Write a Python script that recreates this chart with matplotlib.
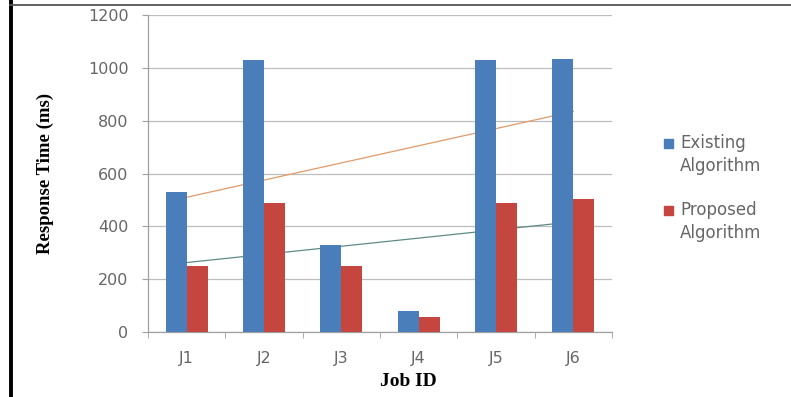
import numpy as np
import matplotlib.pyplot as plt
from matplotlib.lines import Line2D
from matplotlib.patches import Rectangle

# data
jobs = ['J1', 'J2', 'J3', 'J4', 'J5', 'J6']
existing = [530, 1030, 330, 80, 1030, 1035]
proposed = [250, 490, 250, 55, 490, 505]
series_names = ['Existing\nAlgorithm', 'Proposed\nAlgorithm']

blue = '#4A7EBB'
red = '#C4463F'
W, H = 791, 397

fig = plt.figure(figsize=(7.91, 3.97), dpi=100)
ax = fig.add_axes([148 / W, 1 - 332 / H, 464 / W, 317 / H])

x = np.arange(1, len(jobs) + 1)
w = 0.27
ax.bar(x - w / 2, existing, w, color=blue, zorder=3)
ax.bar(x + w / 2, proposed, w, color=red, zorder=3)

# linear trend lines, behind the bars
for vals, col in [(existing, '#E29A68'), (proposed, '#5E8C84')]:
    k, b = np.polyfit(x, vals, 1)
    ax.plot(x, k * x + b, color=col, lw=0.9, zorder=2)

ax.set_xlim(0.5, 6.5)
ax.set_ylim(0, 1200)
ax.set_yticks(range(0, 1201, 200))
ax.set_xticks(x)
ax.set_xticklabels(jobs)
ax.set_xticks(np.arange(0.5, 6.6, 1), minor=True)
ax.tick_params(axis='x', which='major', length=0, pad=14)
ax.tick_params(axis='x', which='minor', length=4, color='#A0A0A0')
ax.tick_params(axis='y', length=4, color='#A0A0A0', pad=10)
for lab in ax.get_xticklabels() + ax.get_yticklabels():
    lab.set_fontfamily('DejaVu Sans')
    lab.set_fontsize(11.5)
    lab.set_color('#666666')

ax.grid(axis='y', color='#BDBDBD', lw=0.9, zorder=0)
for s in ['top', 'right']:
    ax.spines[s].set_visible(False)
for s in ['left', 'bottom']:
    ax.spines[s].set_color('#A0A0A0')
    ax.spines[s].set_linewidth(0.9)

fig.text(45 / W, 1 - 173 / H, 'Response Time (ms)', rotation=90,
         fontfamily='Liberation Serif', fontweight='bold', fontsize=13.5,
         ha='center', va='center')
fig.text(408 / W, 1 - 382 / H, 'Job ID', fontfamily='Liberation Serif',
         fontweight='bold', fontsize=14, ha='center', va='center')

# legend drawn by hand: square aligned with the first line of each label
for name, col, yc in zip(series_names, [blue, red], [143.5, 210.5]):
    fig.add_artist(Rectangle((664 / W, 1 - (yc + 4.5) / H), 9 / W, 9 / H,
                             color=col, transform=fig.transFigure))
    fig.text(680 / W, 1 - (yc + 11) / H, name, fontfamily='DejaVu Sans',
             fontsize=12, color='#666666', ha='left', va='center',
             linespacing=1.3)

# frame lines of the scanned figure
fig.add_artist(Line2D([10.5 / W, 10.5 / W], [0, 1], color='black', lw=2.8))
fig.add_artist(Line2D([10 / W, 1], [1 - 4.5 / H, 1 - 4.5 / H], color='#555555', lw=1.3))

fig.savefig('out.png', dpi=100)
